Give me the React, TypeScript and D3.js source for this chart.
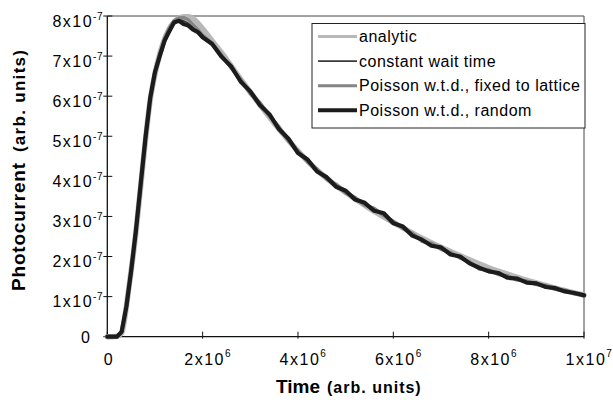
import React from "react";
import * as d3 from "d3";

// time in units of 1e6, current in units of 1e-7
const tAnalytic = [0,0.1,0.2,0.25,0.3,0.35,0.4,0.45,0.5,0.55,0.6,0.7,0.8,0.9,1.0,1.1,1.2,1.3,1.4,1.5,1.6,1.7,1.8,1.9,2.0,2.25,2.5,2.75,3.0,3.5,4.0,4.5,5.0,5.5,6.0,6.5,7.0,7.5,8.0,8.5,9.0,9.5,10];
const analytic = [0,0,0.01,0.04,0.1,0.35,0.75,1.2,1.65,2.1,2.6,3.75,4.9,5.9,6.55,7.05,7.42,7.68,7.85,7.94,7.98,7.98,7.93,7.82,7.68,7.3,6.92,6.5,6.1,5.33,4.63,4.05,3.6,3.2,2.85,2.52,2.23,1.97,1.72,1.52,1.34,1.18,1.04];

const tSim = [0,0.1,0.2,0.3,0.4,0.5,0.6,0.7,0.8,0.9,1.0,1.1,1.2,1.3,1.4,1.5,1.6,1.7,1.8,1.9,2.0,2.2,2.4,2.6,2.8,3.0,3.2,3.4,3.6,3.8,4.0,4.2,4.4,4.6,4.8,5.0,5.2,5.4,5.6,5.8,6.0,6.2,6.4,6.6,6.8,7.0,7.2,7.4,7.6,7.8,8.0,8.2,8.4,8.6,8.8,9.0,9.2,9.4,9.6,9.8,10.0];
const constantWait = [0,0,0,0.1,0.72,1.62,2.62,3.75,4.93,5.93,6.58,7.03,7.4,7.66,7.86,7.92,7.88,7.82,7.72,7.62,7.5,
  7.27,7.0,6.7,6.4,6.08,5.8,5.5,5.22,4.9,4.62,4.37,4.16,3.95,3.77,3.6,3.45,3.31,3.17,3.04,2.86,2.73,2.56,2.4,2.3,2.2,2.08,1.98,1.85,1.71,1.65,1.57,1.5,1.43,1.37,1.32,1.26,1.2,1.14,1.08,1.04];
const poissonLattice = [0,0,0,0.11,0.74,1.64,2.64,3.78,4.97,5.97,6.62,7.06,7.44,7.7,7.88,7.95,7.96,7.9,7.78,7.66,7.52,
  7.32,7.02,6.7,6.42,6.06,5.84,5.5,5.24,4.88,4.64,4.36,4.18,3.93,3.8,3.58,3.47,3.28,3.2,3.02,2.88,2.7,2.58,2.38,2.33,2.18,2.1,1.96,1.87,1.69,1.67,1.55,1.52,1.41,1.39,1.3,1.28,1.18,1.16,1.07,1.05];
const poissonRandom = [0,0,0,0.12,0.75,1.64,2.64,3.8,4.95,5.95,6.6,7.0,7.38,7.62,7.84,7.88,7.8,7.76,7.66,7.6,7.47,
  7.3,6.98,6.74,6.36,6.12,5.78,5.55,5.18,4.94,4.58,4.42,4.12,3.98,3.74,3.64,3.42,3.34,3.14,3.08,2.83,2.75,2.52,2.42,2.27,2.23,2.05,2.0,1.83,1.72,1.63,1.59,1.47,1.45,1.35,1.33,1.24,1.21,1.13,1.09,1.03];

const yTicks = [0,1,2,3,4,5,6,7,8]; // x1e-7
const xTicks = [0,2,4,6,8,10]; // x1e6
const legendLabels = ["analytic","constant wait time","Poisson w.t.d., fixed to lattice","Poisson w.t.d., random"];

const FONT = "'Liberation Sans', Arial, sans-serif";

export default function App() {
  const x = d3.scaleLinear().domain([0, 1e7]).range([107.3, 584]);
  const y = d3.scaleLinear().domain([0, 8e-7]).range([336.7, 16]);

  const lineSmooth = d3.line<[number, number]>().x(d => x(d[0] * 1e6)).y(d => y(d[1] * 1e-7)).curve(d3.curveMonotoneX);
  const lineLin = d3.line<[number, number]>().x(d => x(d[0] * 1e6)).y(d => y(d[1] * 1e-7));

  const zip = (t: number[], v: number[]) => t.map((tt, i) => [tt, v[i]] as [number, number]);

  const series = [
    { label: legendLabels[0], d: lineSmooth(zip(tAnalytic, analytic)), color: "#b8b8b8", w: 5.5, lw: 3 },
    { label: legendLabels[1], d: lineLin(zip(tSim, constantWait)), color: "#3a3a3a", w: 1.8, lw: 1.6 },
    { label: legendLabels[2], d: lineLin(zip(tSim, poissonLattice)), color: "#858585", w: 3.4, lw: 3 },
    { label: legendLabels[3], d: lineLin(zip(tSim, poissonRandom)), color: "#1c1c1c", w: 4.2, lw: 4 },
  ];

  const x0 = x(0), x1 = x(1e7), y0 = y(0), y1 = y(8e-7);

  return (
    <svg width={613} height={403} style={{ position: "absolute", left: 0, top: 0, background: "#fff" }} fontFamily={FONT}>
      <rect x={0} y={0} width={613} height={403} fill="#fff" />
      {/* frame */}
      <line x1={x0} x2={x1} y1={y1} y2={y1} stroke="#444" strokeWidth={1} />
      <line x1={x1} x2={x1} y1={y1} y2={y0} stroke="#444" strokeWidth={1} />
      <line x1={x0} x2={x0} y1={y1} y2={y0} stroke="#111" strokeWidth={1.3} />
      <line x1={x0} x2={x1} y1={y0} y2={y0} stroke="#111" strokeWidth={1.3} />
      {/* y ticks */}
      {yTicks.map(v => (
        <g key={"y" + v}>
          <line x1={x0 - 4} x2={x0 + 5} y1={y(v * 1e-7)} y2={y(v * 1e-7)} stroke="#111" strokeWidth={1} />
          {v === 0 ? (
            <text x={90} y={y(0) + 6} textAnchor="end" fontSize={16}>0</text>
          ) : (
            <text x={103} y={y(v * 1e-7) + 10.5} textAnchor="end" fontSize={16} letterSpacing={1.5}>
              {v}x10<tspan fontSize={10} dy={-7} letterSpacing={0.5}>-7</tspan>
            </text>
          )}
        </g>
      ))}
      {/* x ticks */}
      {xTicks.map(v => (
        <g key={"x" + v}>
          <line x1={x(v * 1e6)} x2={x(v * 1e6)} y1={y0 - 5} y2={y0 + 2} stroke="#111" strokeWidth={1} />
          {v === 0 ? (
            <text x={x(0) + 1} y={365} textAnchor="middle" fontSize={16}>0</text>
          ) : (
            <text x={x(v * 1e6) + 5} y={365} textAnchor="middle" fontSize={16} letterSpacing={1.5}>
              {v === 10 ? "1" : v}x10<tspan fontSize={10} dy={-8} letterSpacing={0.5}>{v === 10 ? "7" : "6"}</tspan>
            </text>
          )}
        </g>
      ))}
      {/* data */}
      {series.map(s => (
        <path key={s.label} d={s.d || ""} fill="none" stroke={s.color} strokeWidth={s.w} strokeLinejoin="round" strokeLinecap="round" />
      ))}
      {/* legend */}
      <rect x={312} y={23.5} width={273} height={104.5} fill="#fff" stroke="#222" strokeWidth={1} />
      {series.map((s, i) => (
        <g key={"lg" + i}>
          <line x1={318} x2={357} y1={36.5 + i * 24.6} y2={36.5 + i * 24.6} stroke={s.color} strokeWidth={s.lw} />
          <text x={359} y={36.5 + i * 24.6 + 5.5} fontSize={16} letterSpacing={0.5}>{s.label}</text>
        </g>
      ))}
      {/* axis titles */}
      <text x={276} y={393} fontWeight="bold" fontSize={19}>
        Time<tspan fontSize={16} dx={7} letterSpacing={1}>(arb. units)</tspan>
      </text>
      <text transform="translate(25,291) rotate(-90)" fontWeight="bold" fontSize={19} letterSpacing={0.8}>
        Photocurrent<tspan fontSize={17} dx={10} letterSpacing={1.3}>(arb. units)</tspan>
      </text>
    </svg>
  );
}
